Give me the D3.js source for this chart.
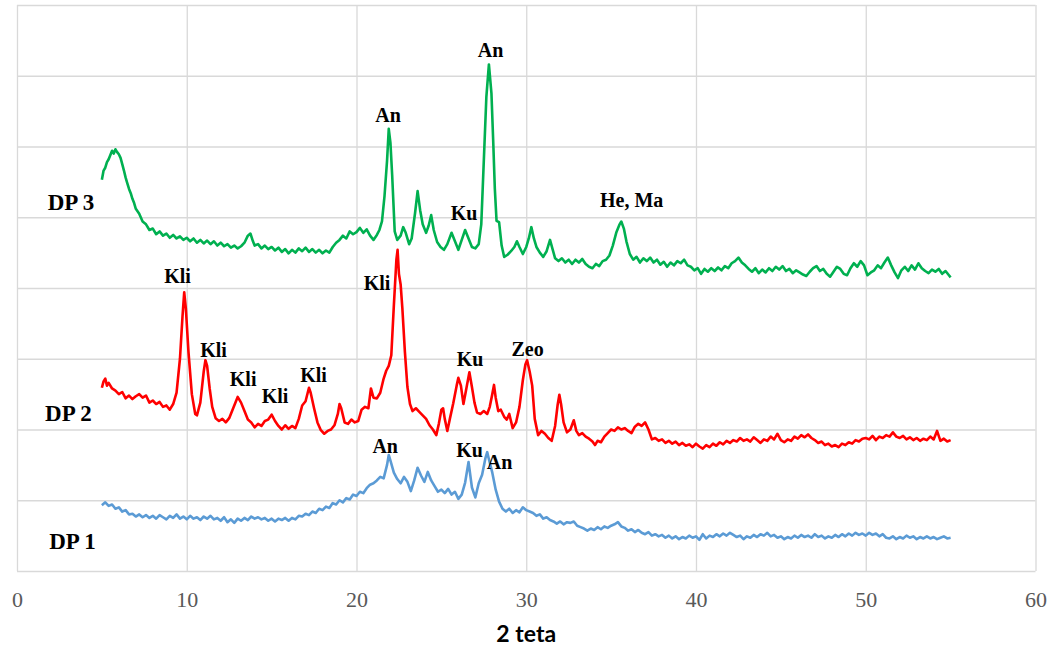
<!DOCTYPE html>
<html>
<head>
<meta charset="utf-8">
<script src="https://cdn.jsdelivr.net/npm/d3@7"></script>
<style>
  body { margin: 0; background: #fff; }
  svg { display: block; }
  .grid line { stroke: #d9d9d9; stroke-width: 1.3; }
  .grid path { display: none; }
  .xaxis path, .xaxis line { display: none; }
  .xaxis text { font-family: "Liberation Serif", serif; font-size: 22px; fill: #595959; }
  .tag { font-family: "Liberation Serif", serif; font-weight: bold; fill: #000; }
</style>
</head>
<body>
<svg id="chart" width="1053" height="651"></svg>
<script>
// x: 2 theta (deg), y: intensity (arbitrary, stacked)
var xTicks = [0, 10, 20, 30, 40, 50, 60];
var yGrid = [0, 100, 200, 300, 400, 500, 600, 700, 800];

var dp1 = [
  [5.0,93],[5.2,97],[5.4,92],[5.6,94],[5.8,88],[6.0,90],[6.2,84],[6.4,86],[6.6,80],[6.8,81],
  [7.0,77],[7.2,80],[7.4,76],[7.6,79],[7.8,75],[8.0,78],[8.2,74],[8.4,79],[8.6,76],[8.8,73],
  [9.0,78],[9.2,75],[9.4,80],[9.6,74],[9.8,77],[10.0,73],[10.2,78],[10.4,74],[10.6,76],[10.8,72],
  [11.0,77],[11.2,74],[11.4,78],[11.6,73],[11.8,75],[12.0,71],[12.2,76],[12.4,69],[12.6,73],[12.8,68],
  [13.0,74],[13.2,71],[13.4,75],[13.6,72],[13.8,77],[14.0,74],[14.2,76],[14.4,73],[14.6,75],[14.8,71],
  [15.0,74],[15.2,70],[15.4,74],[15.6,72],[15.8,75],[16.0,71],[16.2,75],[16.4,73],[16.6,78],[16.8,77],
  [17.0,81],[17.2,79],[17.4,84],[17.6,82],[17.8,88],[18.0,86],[18.2,91],[18.4,89],[18.6,96],[18.8,94],
  [19.0,100],[19.2,97],[19.4,103],[19.6,101],[19.8,108],[20.0,106],[20.2,112],[20.4,110],[20.6,117],[20.8,122],
  [21.0,124],[21.2,128],[21.4,133],[21.6,131],[21.8,150],[21.9,164],[22.0,156],[22.2,139],[22.4,130],[22.6,124],
  [22.8,133],[23.0,126],[23.2,113],[23.4,128],[23.6,146],[23.8,135],[24.0,126],[24.2,140],[24.4,128],[24.6,120],
  [24.8,112],[25.0,115],[25.2,110],[25.4,116],[25.6,108],[25.8,112],[26.0,102],[26.2,108],[26.4,125],[26.6,154],
  [26.8,118],[27.0,104],[27.2,124],[27.4,136],[27.6,160],[27.7,168],[27.8,158],[28.0,139],[28.2,115],[28.4,98],
  [28.6,88],[28.8,84],[29.0,88],[29.2,82],[29.4,86],[29.6,83],[29.8,90],[30.0,86],[30.2,84],[30.4,82],
  [30.6,78],[30.8,80],[31.0,74],[31.2,76],[31.4,72],[31.6,70],[31.8,67],[32.0,70],[32.2,66],[32.4,69],
  [32.6,68],[32.8,70],[33.0,64],[33.2,62],[33.4,60],[33.6,57],[33.8,60],[34.0,58],[34.2,62],[34.4,59],
  [34.6,63],[34.8,61],[35.0,64],[35.2,66],[35.4,69],[35.6,63],[35.8,61],[36.0,57],[36.2,59],[36.4,55],
  [36.6,58],[36.8,54],[37.0,52],[37.2,55],[37.4,50],[37.6,52],[37.8,49],[38.0,51],[38.2,47],[38.4,50],
  [38.6,46],[38.8,49],[39.0,45],[39.2,48],[39.4,46],[39.6,50],[39.8,47],[40.0,49],[40.2,44],[40.4,52],
  [40.6,46],[40.8,50],[41.0,48],[41.2,52],[41.4,49],[41.6,53],[41.8,50],[42.0,54],[42.2,51],[42.4,48],
  [42.6,50],[42.8,45],[43.0,49],[43.2,47],[43.4,51],[43.6,48],[43.8,52],[44.0,50],[44.2,54],[44.4,49],
  [44.6,51],[44.8,47],[45.0,49],[45.2,45],[45.4,48],[45.6,46],[45.8,50],[46.0,47],[46.2,51],[46.4,48],
  [46.6,50],[46.8,47],[47.0,52],[47.2,48],[47.4,50],[47.6,46],[47.8,49],[48.0,47],[48.2,51],[48.4,48],
  [48.6,52],[48.8,49],[49.0,53],[49.2,50],[49.4,54],[49.6,51],[49.8,53],[50.0,50],[50.2,54],[50.4,51],
  [50.6,53],[50.8,49],[51.0,52],[51.2,47],[51.4,46],[51.6,49],[51.8,45],[52.0,48],[52.2,46],[52.4,50],
  [52.6,47],[52.8,49],[53.0,45],[53.2,48],[53.4,46],[53.6,49],[53.8,46],[54.0,48],[54.2,45],[54.4,47],
  [54.6,49],[54.8,46],[55.0,47]
];

var dp2 = [
  [5.0,259],[5.1,268],[5.2,272],[5.3,262],[5.4,266],[5.6,258],[5.8,255],[6.0,250],[6.2,253],[6.4,244],
  [6.6,248],[6.8,243],[7.0,247],[7.2,250],[7.4,245],[7.6,248],[7.8,238],[8.0,241],[8.2,236],[8.4,239],
  [8.6,232],[8.8,234],[9.0,228],[9.2,236],[9.4,252],[9.6,300],[9.75,360],[9.85,394],[9.95,370],[10.1,310],
  [10.3,250],[10.5,222],[10.6,220],[10.8,238],[11.0,282],[11.1,298],[11.2,290],[11.35,258],[11.5,232],[11.7,216],
  [11.9,212],[12.1,215],[12.3,210],[12.5,216],[12.7,228],[12.9,240],[13.0,246],[13.2,238],[13.4,226],[13.6,214],
  [13.8,210],[14.0,203],[14.2,208],[14.4,205],[14.6,212],[14.8,214],[15.0,221],[15.2,212],[15.4,205],[15.6,200],
  [15.8,206],[16.0,201],[16.2,205],[16.4,202],[16.6,215],[16.8,234],[17.0,240],[17.2,259],[17.3,252],[17.5,230],
  [17.7,210],[17.9,199],[18.1,194],[18.3,198],[18.5,200],[18.7,206],[18.9,222],[19.0,236],[19.1,230],[19.3,210],
  [19.5,208],[19.7,214],[19.9,210],[20.1,212],[20.3,228],[20.5,232],[20.7,230],[20.85,258],[21.0,245],[21.2,244],
  [21.4,252],[21.6,272],[21.75,283],[21.9,290],[22.05,305],[22.2,375],[22.35,440],[22.42,454],[22.5,420],[22.6,405],
  [22.7,372],[22.85,310],[23.0,260],[23.15,236],[23.3,226],[23.5,230],[23.7,225],[23.9,220],[24.1,215],[24.3,206],
  [24.5,200],[24.7,192],[24.85,208],[25.0,228],[25.1,230],[25.2,215],[25.35,198],[25.5,215],[25.7,237],[25.9,262],
  [26.0,273],[26.15,262],[26.3,236],[26.45,255],[26.65,281],[26.8,260],[26.95,238],[27.1,224],[27.3,222],[27.5,226],
  [27.7,222],[27.85,232],[28.0,250],[28.1,263],[28.2,245],[28.35,226],[28.5,228],[28.7,218],[28.85,214],[29.0,222],
  [29.2,202],[29.4,210],[29.6,232],[29.8,270],[29.95,292],[30.05,298],[30.2,282],[30.35,262],[30.5,215],[30.7,192],
  [30.9,198],[31.1,194],[31.3,188],[31.5,184],[31.7,205],[31.85,235],[31.95,249],[32.05,236],[32.2,210],[32.4,196],
  [32.6,200],[32.8,213],[32.95,198],[33.1,192],[33.3,195],[33.5,190],[33.7,187],[33.9,183],[34.05,178],[34.2,184],
  [34.4,182],[34.6,190],[34.8,195],[35.0,200],[35.2,198],[35.4,203],[35.6,200],[35.8,202],[36.0,198],[36.2,195],
  [36.4,204],[36.6,208],[36.8,205],[37.0,210],[37.2,200],[37.4,186],[37.6,188],[37.8,184],[38.0,186],[38.2,181],
  [38.4,184],[38.6,180],[38.8,183],[39.0,178],[39.2,181],[39.4,177],[39.6,179],[39.8,175],[40.0,180],[40.2,176],
  [40.4,173],[40.6,178],[40.8,175],[41.0,180],[41.2,177],[41.4,182],[41.6,179],[41.8,184],[42.0,181],[42.2,185],
  [42.4,183],[42.6,188],[42.8,184],[43.0,186],[43.2,183],[43.4,189],[43.6,185],[43.8,181],[44.0,186],[44.2,184],
  [44.4,190],[44.6,186],[44.8,194],[45.0,185],[45.2,182],[45.4,186],[45.6,184],[45.8,190],[46.0,187],[46.2,192],
  [46.4,189],[46.6,193],[46.8,188],[47.0,185],[47.2,181],[47.4,183],[47.6,178],[47.8,180],[48.0,176],[48.2,178],
  [48.4,175],[48.6,180],[48.8,178],[49.0,182],[49.2,180],[49.4,185],[49.6,183],[49.8,187],[50.0,188],[50.2,186],
  [50.4,191],[50.6,185],[50.8,190],[51.0,188],[51.2,192],[51.4,190],[51.6,196],[51.8,190],[52.0,188],[52.2,191],
  [52.4,186],[52.6,189],[52.8,185],[53.0,188],[53.2,184],[53.4,187],[53.6,185],[53.8,190],[54.0,186],[54.2,198],
  [54.4,184],[54.6,187],[54.8,183],[55.0,185]
];

var dp3 = [
  [5.0,553],[5.1,566],[5.2,570],[5.3,578],[5.4,582],[5.5,588],[5.6,594],[5.7,590],[5.8,596],[5.9,592],
  [6.0,589],[6.1,584],[6.2,575],[6.3,566],[6.4,556],[6.5,548],[6.6,540],[6.7,534],[6.8,526],[6.9,520],
  [7.0,512],[7.2,505],[7.4,494],[7.6,490],[7.8,482],[8.0,484],[8.2,476],[8.4,480],[8.6,474],[8.8,477],
  [9.0,471],[9.2,475],[9.4,470],[9.6,473],[9.8,468],[10.0,471],[10.2,466],[10.4,470],[10.6,464],[10.8,468],
  [11.0,463],[11.2,467],[11.4,462],[11.6,466],[11.8,460],[12.0,464],[12.2,459],[12.4,462],[12.6,457],[12.8,460],
  [13.0,456],[13.2,459],[13.4,464],[13.6,474],[13.75,477],[13.9,466],[14.0,460],[14.2,462],[14.4,456],[14.6,460],
  [14.8,455],[15.0,458],[15.2,453],[15.4,457],[15.6,451],[15.8,455],[16.0,449],[16.2,454],[16.4,450],[16.6,456],
  [16.8,452],[17.0,457],[17.2,451],[17.4,455],[17.6,450],[17.8,454],[18.0,449],[18.2,453],[18.4,450],[18.6,458],
  [18.8,464],[19.0,468],[19.2,474],[19.4,470],[19.6,480],[19.8,476],[20.0,479],[20.2,485],[20.4,478],[20.6,483],
  [20.8,474],[21.0,468],[21.2,475],[21.35,482],[21.5,494],[21.65,530],[21.8,580],[21.9,625],[22.0,605],[22.1,560],
  [22.25,480],[22.4,468],[22.6,474],[22.75,486],[22.9,478],[23.1,462],[23.25,470],[23.45,506],[23.6,537],[23.75,510],
  [23.9,490],[24.1,478],[24.25,488],[24.4,503],[24.55,482],[24.75,465],[24.95,458],[25.15,454],[25.35,462],[25.6,478],
  [25.8,466],[26.0,454],[26.2,468],[26.4,482],[26.6,470],[26.8,458],[27.0,456],[27.2,462],[27.35,490],[27.5,580],
  [27.65,670],[27.8,716],[27.95,675],[28.05,610],[28.15,540],[28.25,495],[28.4,493],[28.55,460],[28.7,444],[28.9,447],
  [29.1,452],[29.3,458],[29.45,466],[29.6,458],[29.8,448],[30.0,458],[30.15,470],[30.3,486],[30.45,470],[30.6,458],
  [30.8,450],[31.0,444],[31.2,452],[31.4,468],[31.55,455],[31.7,442],[31.9,438],[32.1,442],[32.3,436],[32.5,440],
  [32.7,434],[32.9,440],[33.1,436],[33.3,441],[33.5,434],[33.7,430],[33.9,428],[34.1,434],[34.3,431],[34.5,438],
  [34.7,440],[34.9,446],[35.1,460],[35.3,478],[35.5,490],[35.6,494],[35.75,484],[35.9,466],[36.1,448],[36.3,440],
  [36.5,444],[36.7,436],[36.9,442],[37.1,438],[37.3,443],[37.5,436],[37.7,440],[37.9,433],[38.1,437],[38.3,430],
  [38.5,436],[38.7,432],[38.9,438],[39.1,435],[39.3,440],[39.5,432],[39.7,430],[39.9,425],[40.1,428],[40.3,420],
  [40.5,427],[40.7,423],[40.9,428],[41.1,424],[41.3,429],[41.5,425],[41.7,431],[41.9,428],[42.1,435],[42.3,438],
  [42.5,443],[42.7,436],[42.9,432],[43.1,427],[43.3,423],[43.5,428],[43.7,421],[43.9,426],[44.1,422],[44.3,428],
  [44.5,424],[44.7,430],[44.9,426],[45.1,431],[45.3,424],[45.5,427],[45.7,421],[45.9,425],[46.1,422],[46.3,419],
  [46.5,417],[46.7,423],[46.9,428],[47.1,431],[47.3,424],[47.5,427],[47.7,420],[47.9,416],[48.1,423],[48.3,430],
  [48.5,427],[48.7,420],[48.9,418],[49.1,428],[49.3,435],[49.5,430],[49.7,438],[49.9,432],[50.1,418],[50.3,422],
  [50.5,425],[50.7,432],[50.9,428],[51.1,436],[51.3,443],[51.5,432],[51.7,422],[51.9,414],[52.1,425],[52.3,430],
  [52.5,424],[52.7,432],[52.9,426],[53.1,435],[53.3,428],[53.5,424],[53.7,421],[53.9,426],[54.1,423],[54.3,427],
  [54.5,420],[54.7,424],[54.9,418],[55.0,415]
];

var seriesNames = ["DP 1", "DP 2", "DP 3"];
var seriesColors = ["#5b9bd5", "#ff0000", "#00b050"];
// where each series name sits (theta, intensity)
var seriesTagPos = [[3.27, 31], [3.03, 212], [3.18, 510]];

// peak labels: text, theta, intensity of the text baseline
var peakLabels = [
  ["Kli", 9.46, 407], ["Kli", 11.58, 303], ["Kli", 13.32, 261], ["Kli", 15.2, 237],
  ["Kli", 17.47, 267], ["Kli", 21.21, 397], ["Ku", 26.69, 290], ["Zeo", 30.08, 304],
  ["An", 21.69, 167], ["Ku", 26.66, 161], ["An", 28.43, 144],
  ["An", 21.86, 634], ["An", 27.9, 727], ["Ku", 26.34, 496], ["He, Ma", 36.21, 514]
];

var svg = d3.select("#chart");
var padL = 17, padR = 1035.5, padT = 5, padB = 571;

var x = d3.scaleLinear().domain([0, 60]).range([padL, padR]);
var y = d3.scaleLinear().domain([0, 800]).range([padB, padT]);

// grid
svg.append("g").attr("class", "grid")
    .attr("transform", "translate(0," + padB + ")")
    .call(d3.axisBottom(x).tickValues(xTicks).tickSize(-(padB - padT)).tickFormat(""));
svg.append("g").attr("class", "grid")
    .attr("transform", "translate(" + padL + ",0)")
    .call(d3.axisLeft(y).tickValues(yGrid).tickSize(-(padR - padL)).tickFormat(""));

// x tick labels
var xa = svg.append("g").attr("class", "xaxis")
    .attr("transform", "translate(0," + padB + ")")
    .call(d3.axisBottom(x).tickValues(xTicks).tickSize(0));
xa.selectAll("text").attr("y", 36).attr("dy", 0);

svg.append("text")
    .attr("x", x(30)).attr("y", 642)
    .attr("text-anchor", "middle")
    .style("font-family", "Lato, sans-serif").style("font-weight", "bold")
    .style("font-size", "23px").style("fill", "#000")
    .text("2 teta");

var line = d3.line().x(function(d) { return x(d[0]); }).y(function(d) { return y(d[1]); });

[dp1, dp2, dp3].forEach(function(s, i) {
  svg.append("path")
      .datum(s)
      .attr("d", line)
      .attr("fill", "none")
      .attr("stroke", seriesColors[i])
      .attr("stroke-width", 2.6)
      .attr("stroke-linejoin", "round");
});

seriesNames.forEach(function(n, i) {
  svg.append("text").attr("class", "tag")
      .attr("x", x(seriesTagPos[i][0])).attr("y", y(seriesTagPos[i][1]))
      .attr("text-anchor", "middle").style("font-size", "23px")
      .text(n);
});

svg.selectAll("text.peak").data(peakLabels).enter().append("text")
    .attr("class", "tag peak")
    .attr("x", function(d) { return x(d[1]); })
    .attr("y", function(d) { return y(d[2]); })
    .attr("text-anchor", "middle").style("font-size", "20px")
    .text(function(d) { return d[0]; });
</script>
</body>
</html>
